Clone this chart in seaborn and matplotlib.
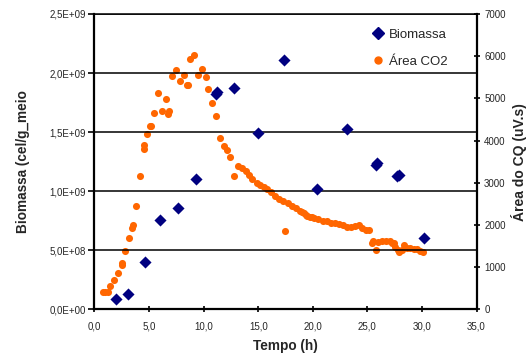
import matplotlib
matplotlib.use("Agg")
import matplotlib.pyplot as plt
from matplotlib.lines import Line2D
import seaborn as sns
import pandas as pd

tempo_bio = [2.0, 3.05, 4.6, 6.0, 7.65, 9.3, 11.1, 11.2, 12.8, 15.0, 17.4, 20.4, 23.1, 25.8, 25.9, 27.75, 27.9, 30.2]
biomassa = [8.5e7, 1.3e8, 4.0e8, 7.6e8, 8.6e8, 1.10e9, 1.82e9, 1.84e9, 1.875e9, 1.49e9, 2.11e9, 1.015e9,
            1.525e9, 1.22e9, 1.24e9, 1.13e9, 1.14e9, 0.605e9]

tempo_co2 = [0.8, 1.0, 1.2, 1.42, 1.8, 2.16, 2.48, 2.52, 2.8, 3.14, 3.45, 3.5, 3.8, 4.17, 4.5, 4.56, 4.85,
             5.12, 5.22, 5.46, 5.86, 6.22, 6.59, 6.72, 6.8, 7.14, 7.5, 7.87, 8.24, 8.5, 8.6, 8.79, 9.16,
             9.52, 9.89, 10.26, 10.44, 10.8, 11.17, 11.54, 11.85, 12.16, 12.4, 12.8, 13.17, 13.53, 13.84,
             14.2, 14.45, 14.88, 15.18, 15.49, 15.85, 16.17, 16.5, 16.9, 17.27, 17.48, 17.7, 18.06, 18.42,
             18.8, 19.0, 19.16, 19.4, 19.5, 19.77, 19.9, 20.1, 20.5, 20.9, 21.3, 21.67, 22.04, 22.43,
             22.77, 23.14, 23.5, 23.84, 24.2, 24.54, 24.9, 25.16, 25.43, 25.5, 25.83, 25.95, 26.3, 26.7,
             27.05, 27.27, 27.4, 27.57, 27.8, 27.87, 28.18, 28.4, 28.64, 28.95, 29.25, 29.56, 29.86, 30.07]
area_co2 = [420, 420, 420, 555, 705, 850, 1040, 1100, 1391, 1700, 1930, 1990, 2451, 3170, 3800, 3900, 4160,
            4350, 4350, 4642, 5126, 4690, 4975, 4640, 4690, 5536, 5679, 5401, 5545, 5306, 5306, 5923, 6027,
            5545, 5695, 5496, 5211, 4879, 4570, 4072, 3875, 3764, 3607, 3163, 3401, 3346, 3289,
            3187, 3092, 3004, 2957, 2895, 2848, 2783, 2696, 2617, 2570, 1865, 2530, 2459, 2397,
            2333, 2318, 2278, 2238, 2214, 2183, 2183, 2174, 2136, 2102, 2088, 2055, 2041, 2024,
            2008, 1946, 1946, 1984, 1994, 1937, 1882, 1882, 1580, 1620, 1414, 1604, 1614, 1614,
            1614, 1580, 1580, 1486, 1407, 1367, 1407, 1526, 1447, 1447, 1431, 1424, 1391, 1367]

x_ticks = [0, 5, 10, 15, 20, 25, 30, 35]
left_ticks = [0, 5e8, 1e9, 1.5e9, 2e9, 2.5e9]
left_tick_labels = ["0,0E+00", "5,0E+08", "1,0E+09", "1,5E+09", "2,0E+09", "2,5E+09"]
right_ticks = [0, 1000, 2000, 3000, 4000, 5000, 6000, 7000]

sns.set_style("white")
plt.rcParams['font.family'] = ['Liberation Sans', 'DejaVu Sans']

navy = "#000080"
orange = "#FF6600"

fig = plt.figure(figsize=(5.29, 3.54), dpi=100)
ax = fig.add_axes([0.1786, 0.1263, 0.9008 - 0.1786, 0.9605 - 0.1263])
ax2 = ax.twinx()

df_bio = pd.DataFrame({"t": tempo_bio, "b": biomassa})
df_co2 = pd.DataFrame({"t": tempo_co2, "a": area_co2})

sns.scatterplot(data=df_co2, x="t", y="a", ax=ax2, color=orange, marker="o", s=26,
                edgecolor=orange, linewidth=0, zorder=3)
sns.scatterplot(data=df_bio, x="t", y="b", ax=ax, color=navy, marker="D", s=38,
                edgecolor=navy, linewidth=0, zorder=4)

ax.set_zorder(ax2.get_zorder() + 1)
ax.patch.set_visible(False)

ax.set_xlim(0, 35)
ax.set_ylim(0, 2.5e9)
ax2.set_ylim(0, 7000)

ax.set_xticks(x_ticks)
ax.set_xticklabels([f"{v:.1f}".replace(".", ",") for v in x_ticks])
ax.set_yticks(left_ticks)
ax.set_yticklabels(left_tick_labels)
ax2.set_yticks(right_ticks)
ax2.set_yticklabels([str(v) for v in right_ticks])

ax.grid(True, axis="y", color="black", linewidth=1.1)
ax.grid(False, axis="x")
ax2.grid(False)

for a in (ax, ax2):
    for sp in a.spines.values():
        sp.set_visible(False)
for name in ("left", "bottom"):
    ax.spines[name].set_visible(True)
    ax.spines[name].set_color("black")
    ax.spines[name].set_linewidth(1.6)
ax.spines["top"].set_visible(True)
ax.spines["top"].set_color("black")
ax.spines["top"].set_linewidth(1.1)
ax2.spines["right"].set_visible(True)
ax2.spines["right"].set_color("black")
ax2.spines["right"].set_linewidth(1.6)

ax.tick_params(axis="both", labelsize=7, length=4, width=1.2, color="black", direction="out",
               left=True, bottom=True, pad=2)
ax.tick_params(axis="x", direction="inout", length=5, pad=6)
ax2.tick_params(axis="y", labelsize=7, length=5, width=1.2, color="black", direction="inout",
                right=True, pad=3)

ax.set_xlabel("Tempo (h)", fontsize=9.8, fontweight="bold", labelpad=6)
ax.set_ylabel("Biomassa (cel/g_meio", fontsize=9.8, fontweight="bold", labelpad=14)
ax2.set_ylabel("Área do CQ (uV.s)", fontsize=10, fontweight="bold", labelpad=4)

handles = [Line2D([], [], marker="D", color=navy, linestyle="", markersize=6),
           Line2D([], [], marker="o", color=orange, linestyle="", markersize=5)]
ax.legend(handles, ["Biomassa", "Área CO2"], loc="upper right", bbox_to_anchor=(0.955, 0.99),
          frameon=False, fontsize=9.5, handletextpad=0.35, handlelength=1.0, labelspacing=1.1)

fig.savefig("out.png", dpi=100)
